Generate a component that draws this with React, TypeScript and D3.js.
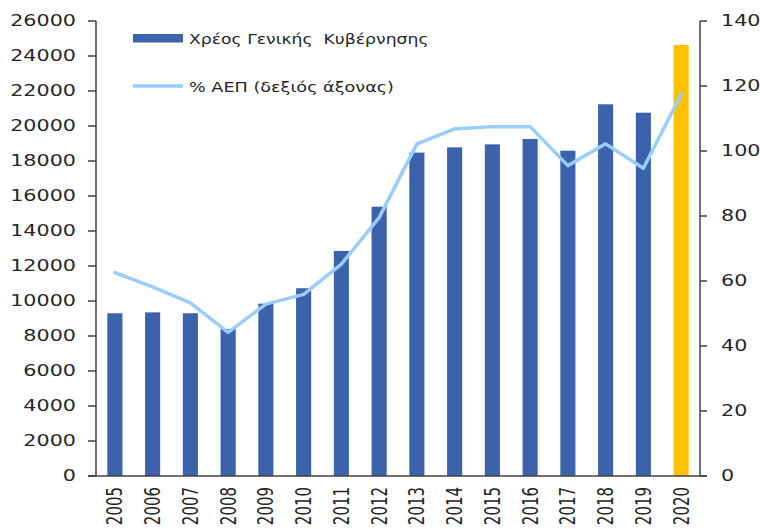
import * as d3 from 'd3'

const years = ['2005', '2006', '2007', '2008', '2009', '2010', '2011', '2012', '2013', '2014', '2015', '2016', '2017', '2018', '2019', '2020']
// Χρέος Γενικής Κυβέρνησης (εκατ. €), αριστερός άξονας
const debt = [9300, 9350, 9300, 8400, 9850, 10730, 12860, 15390, 18480, 18780, 18950, 19260, 18590, 21240, 20760, 24630]
// % ΑΕΠ, δεξιός άξονας
const debtPctGdp = [62.6, 58.2, 53.3, 44.2, 52.9, 55.9, 65.2, 79.5, 102.2, 106.8, 107.5, 107.5, 95.5, 102.2, 94.7, 117.4]
const leftTicks = [0, 2000, 4000, 6000, 8000, 10000, 12000, 14000, 16000, 18000, 20000, 22000, 24000, 26000]
const rightTicks = [0, 20, 40, 60, 80, 100, 120, 140]
const legendLabels = ['Χρέος Γενικής  Κυβέρνησης', '% ΑΕΠ (δεξιός άξονας)']

const W = 760
const H = 529
const plot = { left: 96, right: 700, top: 21, bottom: 476 }
const SX = 1.38 // the source picture is stretched horizontally
const font = '"DejaVu Sans", Verdana, sans-serif'
const textColor = '#262626'
const axisColor = '#404040'
const barColor = '#3B62AB'
const highlightColor = '#FFC000'
const lineColor = '#99CCFF'

export default function App() {
  const x = d3.scaleBand<string>()
    .domain(years)
    .range([plot.left, plot.right])
    .paddingInner(0.6)
    .paddingOuter(0.3)

  const yLeft = d3.scaleLinear().domain([0, 26000]).range([plot.bottom, plot.top])
  const yRight = d3.scaleLinear().domain([0, 140]).range([plot.bottom, plot.top])

  const line = d3.line<number>()
    .x((_d, i) => x(years[i])! + x.bandwidth() / 2)
    .y(d => yRight(d))

  return (
    <svg width={W} height={H} style={{ position: 'absolute', left: 0, top: 0, background: '#fff' }}
      fontFamily={font} fill={textColor}>
      {/* bars */}
      {debt.map((v, i) => (
        <rect key={years[i]} x={x(years[i])} y={yLeft(v)} width={x.bandwidth()}
          height={yLeft(0) - yLeft(v)} fill={i === years.length - 1 ? highlightColor : barColor} />
      ))}

      {/* % of GDP line */}
      <path d={line(debtPctGdp) ?? ''} fill="none" stroke={lineColor} strokeWidth={3.5}
        strokeLinejoin="round" strokeLinecap="round" />

      {/* left axis */}
      <line x1={plot.left} x2={plot.left} y1={plot.top} y2={plot.bottom} stroke={axisColor} strokeWidth={1.5} />
      {leftTicks.map(t => (
        <g key={t}>
          <line x1={plot.left - 8} x2={plot.left} y1={yLeft(t)} y2={yLeft(t)} stroke={axisColor} strokeWidth={1.5} />
          <text transform={`translate(76,${yLeft(t)}) scale(${SX},1)`} textAnchor="end" dy="0.36em" fontSize={15}>
            {t}
          </text>
        </g>
      ))}

      {/* right axis */}
      <line x1={plot.right} x2={plot.right} y1={plot.top} y2={plot.bottom} stroke={axisColor} strokeWidth={1.5} />
      {rightTicks.map(t => (
        <g key={t}>
          <line x1={plot.right} x2={plot.right + 7} y1={yRight(t)} y2={yRight(t)} stroke={axisColor} strokeWidth={1.5} />
          <text transform={`translate(721,${yRight(t)}) scale(${SX},1)`} textAnchor="start" dy="0.36em" fontSize={15}>
            {t}
          </text>
        </g>
      ))}

      {/* bottom axis */}
      <line x1={plot.left - 8} x2={plot.right + 7} y1={plot.bottom} y2={plot.bottom} stroke={axisColor} strokeWidth={1.5} />
      {years.map(yr => (
        <text key={yr}
          transform={`translate(${x(yr)! + x.bandwidth() / 2},487) scale(${SX},1) rotate(-90)`}
          textAnchor="end" dy="0.36em" fontSize={15}>
          {yr}
        </text>
      ))}

      {/* legend */}
      <rect x={133} y={34} width={50} height={8.5} fill={barColor} />
      <text transform={`translate(189,44) scale(1.23,1)`} fontSize={14} style={{ whiteSpace: 'pre' }}>
        {legendLabels[0]}
      </text>
      <line x1={133} x2={183} y1={86} y2={86} stroke={lineColor} strokeWidth={3.5} />
      <text transform={`translate(189,91.5) scale(1.26,1)`} fontSize={14}>{legendLabels[1]}</text>
    </svg>
  )
}
